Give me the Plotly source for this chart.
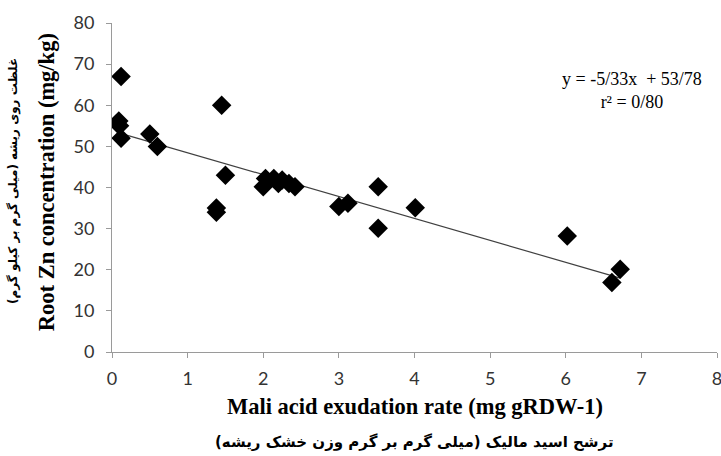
import plotly.graph_objects as go

# Data
malic_rate = [0.12, 0.09, 0.10, 0.12, 0.50, 0.60, 1.45, 1.50, 1.38, 1.38,
              2.00, 2.03, 2.14, 2.25, 2.20, 2.34, 2.42, 3.00, 3.12, 3.52,
              3.52, 4.01, 6.02, 6.72, 6.61]
root_zn = [67, 56.2, 55, 52, 53, 50, 60, 43, 35, 34,
           40.2, 42.2, 42.2, 41.8, 41, 41, 40.2, 35.4, 36.2, 40.2,
           30.1, 35.1, 28.2, 20.1, 16.9]

slope = -5.33
intercept = 53.78
trend_x = [min(malic_rate), max(malic_rate)]
trend_y = [slope * v + intercept for v in trend_x]

x_ticks = [0, 1, 2, 3, 4, 5, 6, 7, 8]
y_ticks = [0, 10, 20, 30, 40, 50, 60, 70, 80]

fig = go.Figure()
fig.add_trace(go.Scatter(x=trend_x, y=trend_y, mode="lines",
                         line=dict(color="#404040", width=1.2),
                         hoverinfo="skip", showlegend=False))
fig.add_trace(go.Scatter(x=malic_rate, y=root_zn, mode="markers",
                         marker=dict(symbol="diamond", size=15, color="black"),
                         showlegend=False))

axis_common = dict(showgrid=False, zeroline=False, showline=True,
                   linecolor="#9a9a9a", linewidth=1, ticks="outside",
                   ticklen=5, tickcolor="#9a9a9a", automargin=False,
                   ticklabeloverflow="allow",
                   tickfont=dict(family="Lato", size=18, color="#333333"))

fig.update_xaxes(range=[0, 8], tickvals=x_ticks, ticklabelstandoff=5, **axis_common)
fig.update_yaxes(range=[0, 80], tickvals=y_ticks, ticklabelstandoff=8, **axis_common)

fig.update_layout(
    width=721, height=456,
    margin=dict(l=112, r=4, t=23, b=104),
    plot_bgcolor="white", paper_bgcolor="white",
)

serif = "Liberation Serif"
fig.add_annotation(xref="paper", yref="paper", x=0.5, y=-0.165,
                   text="<b>Mali acid exudation rate (mg gRDW-1)</b>",
                   showarrow=False, font=dict(family=serif, size=22.5, color="black"),
                   xanchor="center", yanchor="middle")
fig.add_annotation(xref="paper", yref="paper", x=0.5, y=-0.275,
                   text="<b>ترشح اسید مالیک (میلی گرم بر گرم وزن خشک ریشه)</b>",
                   showarrow=False, font=dict(family="DejaVu Sans", size=15, color="black"),
                   xanchor="center", yanchor="middle")
fig.add_annotation(xref="paper", yref="paper", x=-0.108, y=0.515,
                   text="<b>Root Zn concentration (mg/kg)</b>", textangle=-90,
                   showarrow=False, font=dict(family=serif, size=22.5, color="black"),
                   xanchor="center", yanchor="middle")
fig.add_annotation(xref="paper", yref="paper", x=-0.162, y=0.52,
                   text="<b>غلظت روی ریشه (میلی گرم بر کیلو گرم)</b>", textangle=-90,
                   showarrow=False, font=dict(family="DejaVu Sans", size=12, color="black"),
                   xanchor="center", yanchor="middle")
fig.add_annotation(xref="paper", yref="paper", x=0.86, y=0.795,
                   text="y = -5/33x  + 53/78<br>r² = 0/80",
                   showarrow=False, align="center",
                   font=dict(family=serif, size=18, color="black"),
                   xanchor="center", yanchor="middle")

fig.write_html("out.html")
